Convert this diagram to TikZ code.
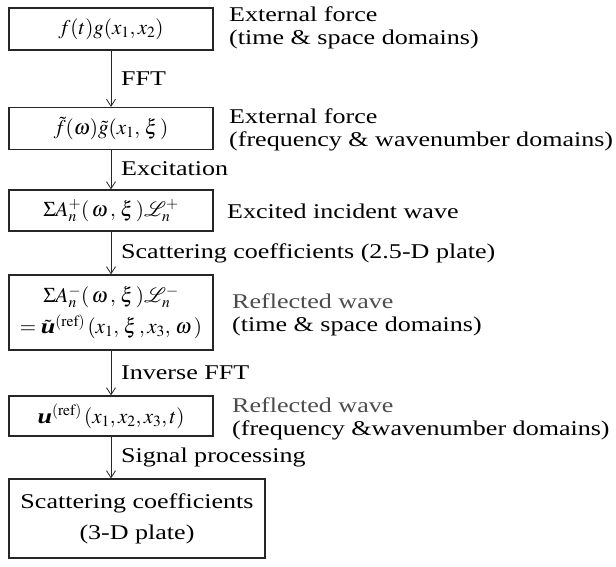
\documentclass[tikz,border=0pt]{standalone}
\usepackage{mathptmx}
\usepackage{mathrsfs}
\usepackage[no-math]{fontspec}
\setmainfont[FakeStretch=1.24]{Liberation Serif}
\usetikzlibrary{arrows.meta}
\begin{document}
\begin{tikzpicture}[x=1pt,y=-1pt,
  box/.style={draw=black!85,line width=1.2pt,minimum height=42pt,minimum width=204pt,inner sep=0pt,align=center,font=\fontsize{21}{31}\selectfont},
  lbl/.style={anchor=west,inner sep=0pt,font=\fontsize{21}{23}\selectfont,align=left},
  arr/.style={draw=black!85,line width=0.8pt,-{Straight Barb[length=7pt,width=9pt]}}]
\useasboundingbox (0,0) rectangle (616,567);
\node[box] (b1) at (111,29) {$f(t)g(x_1,x_2)$};
\node[box] (b2) at (111,128.5) {$\tilde f(\omega)\tilde g(x_1,\,\xi\,)$};
\node[box,minimum height=41pt] (b3) at (111,210.5) {$\Sigma A_n^{+}(\,\omega\,,\,\xi\,)\mathscr{L}_n^{+}$};
\node[box,minimum height=75pt] (b4) at (111,312.5) {$\Sigma A_n^{-}(\,\omega\,,\,\xi\,)\mathscr{L}_n^{-}$\\$=\tilde{\textbf{\itshape u}}^{(\mathrm{ref})}\,(x_1,\,\xi\,,x_3,\,\omega\,)$};
\node[box,minimum height=40pt] (b5) at (111,416) {$\textbf{\itshape u}^{(\mathrm{ref})}\,(x_1,x_2,x_3,t)$};
\node[box,minimum width=256pt,minimum height=79pt] (b6) at (137,518.5) {Scattering coefficients\\(3-D plate)};
\draw[arr] (b1) -- (b2);
\draw[arr] (b2) -- (b3);
\draw[arr] (b3) -- (b4);
\draw[arr] (b4) -- (b5);
\draw[arr] (b5.south) -- (b5.south |- b6.north);
\node[lbl] (l1) at (121,78.5) {FFT};
\node[lbl] (l2) at (121,169) {Excitation};
\node[lbl] (l3) at (121,253) {Scattering coefficients (2.5-D plate)};
\node[lbl] (l4) at (121,373) {Inverse FFT};
\node[lbl] (l5) at (121,457.5) {Signal processing};
\node[lbl] (r1) at (229,27.5) {External force\\(time \& space domains)};
\node[lbl] (r2) at (229,130) {External force\\(frequency \& wavenumber domains)};
\node[lbl] (r3) at (227,211) {Excited incident wave};
\node[lbl] (r4) at (232,315) {{\color{black!70}Reflected wave}\\(time \& space domains)};
\node[lbl] (r5) at (232,419) {{\color{black!70}Reflected wave}\\(frequency \&wavenumber domains)};
\end{tikzpicture}
\end{document}
